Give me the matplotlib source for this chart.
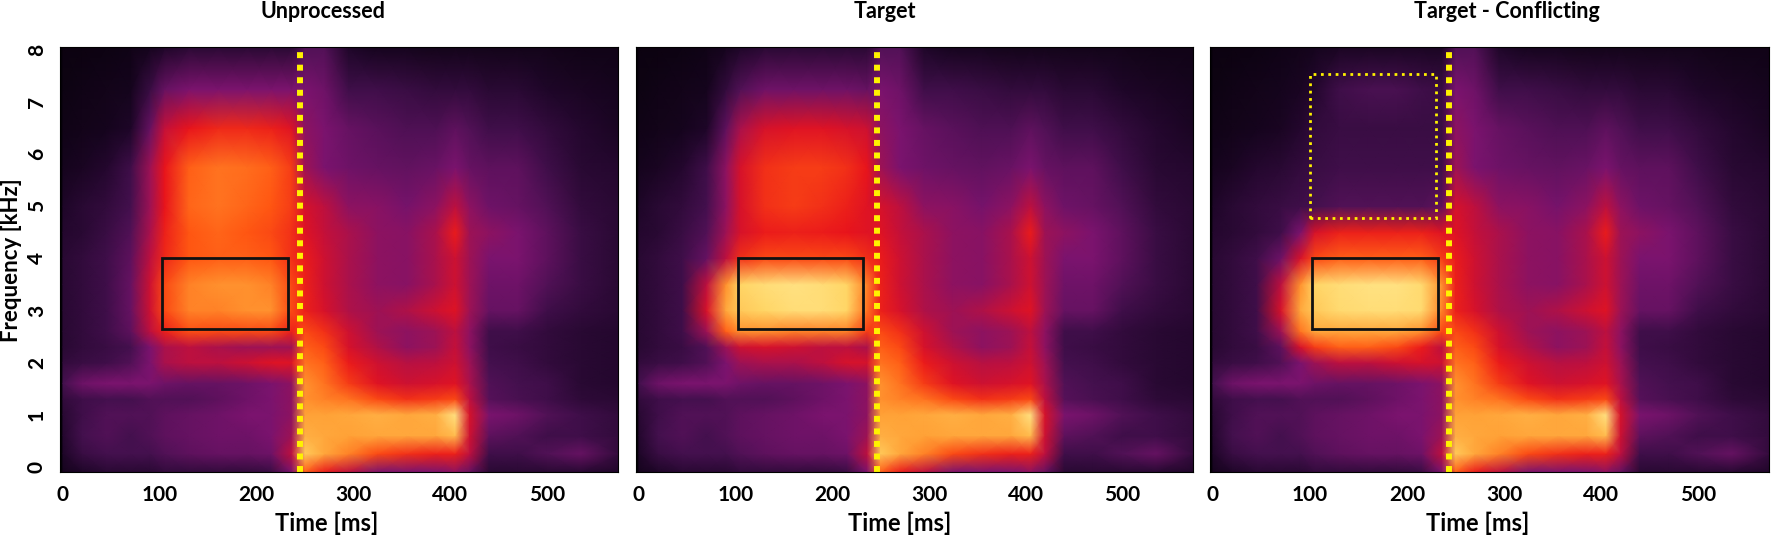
import numpy as np
import matplotlib
matplotlib.use('Agg')
import matplotlib.pyplot as plt
from matplotlib.colors import LinearSegmentedColormap

plt.rcParams['font.family'] = ['Lato', 'DejaVu Sans']
plt.rcParams['font.weight'] = 'bold'

# spectrogram nodes (ms, kHz); rows go from the top bin down to the lowest
time_left = [0, 20, 45, 70, 90, 105, 130, 160, 190, 215, 236]
time_right = [250, 270, 295, 325, 355, 385, 405, 420, 440, 470, 500, 535, 575]
freq_nodes = [8.06, 7.25, 6.5, 5.75, 5.0, 4.5, 4.0, 3.5, 3.0, 2.6, 2.3, 2.0,
              1.6, 1.3, 1.0, 0.6, 0.25, -0.1]

# relative level 0..1 (0 = black, 1 = pale yellow), before the onset line
unproc_left = [
    [0.05, 0.05, 0.06, 0.08, 0.12, 0.18, 0.22, 0.22, 0.22, 0.22, 0.22],
    [0.06, 0.08, 0.10, 0.12, 0.28, 0.40, 0.45, 0.45, 0.45, 0.45, 0.45],
    [0.08, 0.10, 0.12, 0.18, 0.40, 0.56, 0.64, 0.67, 0.67, 0.66, 0.62],
    [0.12, 0.15, 0.20, 0.30, 0.50, 0.64, 0.75, 0.78, 0.77, 0.75, 0.70],
    [0.18, 0.22, 0.25, 0.32, 0.50, 0.64, 0.76, 0.78, 0.76, 0.74, 0.70],
    [0.20, 0.22, 0.28, 0.35, 0.52, 0.66, 0.74, 0.76, 0.74, 0.72, 0.68],
    [0.22, 0.25, 0.30, 0.38, 0.55, 0.67, 0.74, 0.75, 0.75, 0.74, 0.68],
    [0.22, 0.25, 0.30, 0.40, 0.58, 0.72, 0.80, 0.82, 0.82, 0.80, 0.72],
    [0.22, 0.25, 0.30, 0.40, 0.58, 0.72, 0.80, 0.80, 0.82, 0.82, 0.72],
    [0.22, 0.25, 0.30, 0.38, 0.55, 0.66, 0.73, 0.72, 0.72, 0.72, 0.66],
    [0.22, 0.25, 0.28, 0.32, 0.45, 0.52, 0.55, 0.52, 0.50, 0.50, 0.50],
    [0.25, 0.28, 0.30, 0.35, 0.45, 0.52, 0.55, 0.55, 0.58, 0.62, 0.62],
    [0.32, 0.42, 0.45, 0.45, 0.45, 0.42, 0.40, 0.40, 0.42, 0.45, 0.48],
    [0.25, 0.30, 0.32, 0.32, 0.35, 0.35, 0.35, 0.38, 0.42, 0.45, 0.48],
    [0.22, 0.30, 0.35, 0.35, 0.35, 0.38, 0.40, 0.42, 0.45, 0.45, 0.48],
    [0.20, 0.32, 0.35, 0.32, 0.35, 0.38, 0.40, 0.42, 0.42, 0.45, 0.50],
    [0.18, 0.28, 0.32, 0.32, 0.32, 0.35, 0.38, 0.40, 0.40, 0.42, 0.55],
    [0.12, 0.18, 0.22, 0.22, 0.22, 0.25, 0.25, 0.25, 0.25, 0.28, 0.45],
]

# rows 8.0 .. 2.0 kHz; lower rows are as in the unprocessed signal
target_upper = [
    [0.05, 0.05, 0.06, 0.08, 0.12, 0.18, 0.22, 0.22, 0.22, 0.22, 0.22],
    [0.06, 0.08, 0.10, 0.12, 0.25, 0.35, 0.42, 0.42, 0.42, 0.42, 0.40],
    [0.08, 0.10, 0.12, 0.18, 0.38, 0.52, 0.60, 0.62, 0.62, 0.60, 0.58],
    [0.12, 0.15, 0.20, 0.30, 0.48, 0.60, 0.68, 0.70, 0.70, 0.68, 0.64],
    [0.18, 0.22, 0.25, 0.32, 0.48, 0.60, 0.68, 0.70, 0.68, 0.66, 0.62],
    [0.20, 0.22, 0.28, 0.35, 0.50, 0.60, 0.65, 0.66, 0.65, 0.64, 0.62],
    [0.22, 0.25, 0.30, 0.40, 0.55, 0.68, 0.72, 0.72, 0.72, 0.72, 0.68],
    [0.22, 0.25, 0.30, 0.55, 0.82, 0.92, 0.94, 0.95, 0.94, 0.92, 0.80],
    [0.22, 0.25, 0.30, 0.60, 0.85, 0.90, 0.92, 0.94, 0.94, 0.92, 0.78],
    [0.22, 0.25, 0.30, 0.50, 0.75, 0.82, 0.82, 0.80, 0.80, 0.80, 0.70],
    [0.22, 0.25, 0.28, 0.35, 0.50, 0.58, 0.60, 0.58, 0.55, 0.55, 0.52],
    [0.25, 0.28, 0.30, 0.35, 0.45, 0.50, 0.52, 0.52, 0.55, 0.60, 0.60],
]

conflict_upper = [
    [0.05, 0.05, 0.06, 0.08, 0.10, 0.12, 0.15, 0.15, 0.15, 0.15, 0.15],
    [0.06, 0.08, 0.10, 0.12, 0.15, 0.20, 0.30, 0.33, 0.33, 0.30, 0.28],
    [0.08, 0.10, 0.12, 0.15, 0.20, 0.25, 0.28, 0.28, 0.28, 0.28, 0.28],
    [0.12, 0.15, 0.20, 0.22, 0.25, 0.28, 0.30, 0.30, 0.30, 0.30, 0.30],
    [0.18, 0.22, 0.25, 0.28, 0.30, 0.32, 0.35, 0.35, 0.35, 0.35, 0.38],
    [0.20, 0.22, 0.25, 0.30, 0.45, 0.60, 0.66, 0.66, 0.66, 0.66, 0.62],
    [0.22, 0.25, 0.30, 0.42, 0.60, 0.72, 0.75, 0.75, 0.75, 0.75, 0.70],
    [0.22, 0.25, 0.30, 0.55, 0.82, 0.92, 0.94, 0.95, 0.95, 0.93, 0.82],
    [0.22, 0.25, 0.30, 0.60, 0.85, 0.90, 0.93, 0.94, 0.94, 0.93, 0.80],
    [0.22, 0.25, 0.30, 0.50, 0.78, 0.85, 0.85, 0.85, 0.85, 0.82, 0.72],
    [0.22, 0.25, 0.28, 0.38, 0.60, 0.70, 0.75, 0.75, 0.72, 0.65, 0.55],
    [0.25, 0.28, 0.30, 0.35, 0.45, 0.50, 0.55, 0.55, 0.58, 0.60, 0.58],
]

# after the onset line, all three panels look the same
shared_right = [
    [0.35, 0.35, 0.18, 0.12, 0.12, 0.10, 0.10, 0.10, 0.10, 0.10, 0.10, 0.08, 0.08],
    [0.45, 0.42, 0.30, 0.30, 0.28, 0.25, 0.25, 0.25, 0.22, 0.22, 0.18, 0.15, 0.12],
    [0.48, 0.45, 0.40, 0.37, 0.34, 0.34, 0.38, 0.35, 0.30, 0.30, 0.25, 0.20, 0.15],
    [0.50, 0.45, 0.42, 0.40, 0.39, 0.41, 0.45, 0.40, 0.38, 0.38, 0.30, 0.22, 0.20],
    [0.60, 0.55, 0.48, 0.47, 0.44, 0.48, 0.55, 0.48, 0.42, 0.40, 0.35, 0.25, 0.22],
    [0.62, 0.56, 0.52, 0.48, 0.47, 0.52, 0.65, 0.50, 0.48, 0.45, 0.38, 0.28, 0.22],
    [0.65, 0.58, 0.52, 0.48, 0.47, 0.52, 0.58, 0.50, 0.45, 0.45, 0.38, 0.28, 0.22],
    [0.66, 0.58, 0.52, 0.48, 0.47, 0.52, 0.58, 0.50, 0.42, 0.42, 0.35, 0.28, 0.22],
    [0.66, 0.60, 0.53, 0.50, 0.53, 0.58, 0.62, 0.50, 0.40, 0.40, 0.30, 0.25, 0.22],
    [0.72, 0.68, 0.58, 0.50, 0.48, 0.50, 0.55, 0.48, 0.30, 0.30, 0.25, 0.22, 0.20],
    [0.75, 0.72, 0.60, 0.53, 0.48, 0.50, 0.56, 0.48, 0.30, 0.28, 0.25, 0.22, 0.20],
    [0.78, 0.75, 0.65, 0.58, 0.54, 0.55, 0.58, 0.50, 0.32, 0.30, 0.25, 0.22, 0.20],
    [0.82, 0.78, 0.70, 0.62, 0.58, 0.60, 0.62, 0.52, 0.35, 0.32, 0.30, 0.22, 0.20],
    [0.82, 0.80, 0.78, 0.72, 0.68, 0.70, 0.72, 0.55, 0.36, 0.33, 0.30, 0.24, 0.22],
    [0.84, 0.84, 0.85, 0.86, 0.85, 0.86, 0.95, 0.60, 0.45, 0.42, 0.35, 0.30, 0.25],
    [0.86, 0.85, 0.84, 0.85, 0.85, 0.85, 0.88, 0.58, 0.38, 0.35, 0.30, 0.30, 0.25],
    [0.90, 0.85, 0.80, 0.72, 0.68, 0.66, 0.66, 0.55, 0.30, 0.30, 0.35, 0.40, 0.25],
    [0.75, 0.65, 0.55, 0.45, 0.45, 0.45, 0.48, 0.40, 0.22, 0.22, 0.22, 0.22, 0.18],
]

titles = ['Unprocessed', 'Target', 'Target - Conflicting']
lefts = [unproc_left, target_upper + unproc_left[12:], conflict_upper + unproc_left[12:]]
onset_ms = [245, 246, 243]
box_ms = (102, 232)
box_khz = (2.65, 4.0)
masked_ms = (100, 230)
masked_khz = (4.77, 7.55)

cmap = LinearSegmentedColormap.from_list('spec', [
    (0.00, '#050108'), (0.18, '#1e0628'), (0.32, '#45104f'), (0.45, '#7a136e'),
    (0.56, '#c4103a'), (0.64, '#e8141c'), (0.74, '#ff5512'), (0.84, '#ffa035'),
    (0.92, '#ffd565'), (1.00, '#fff3aa')])

fig = plt.figure(figsize=(17.72, 5.39), dpi=100)
ax_lefts = [60, 636, 1210]
ax_widths = [558, 557, 559]
title_x = [0.471, 0.447, 0.531]
xlabel_x = [0.478, 0.474, 0.478]

times = np.array(time_left + time_right)
freqs = np.array(freq_nodes)[::-1]

for i in range(3):
    ax = fig.add_axes([ax_lefts[i] / 1772, 67 / 539, ax_widths[i] / 1772, 425 / 539])
    Z = np.hstack([np.array(lefts[i]), np.array(shared_right)])[::-1]
    T, F = np.meshgrid(times, freqs)
    ax.set_facecolor('#050108')
    ax.pcolormesh(T, F, Z, shading='gouraud', cmap=cmap, vmin=0, vmax=1)

    ax.axvline(onset_ms[i], color='#fff200', lw=4.3, linestyle=(0, (1, 1.1)),
               dash_capstyle='butt')
    ax.add_patch(plt.Rectangle((box_ms[0], box_khz[0]), box_ms[1] - box_ms[0],
                               box_khz[1] - box_khz[0], fill=False,
                               edgecolor='#111111', lw=2.0))
    if i == 2:
        ax.add_patch(plt.Rectangle((masked_ms[0], masked_khz[0]),
                                   masked_ms[1] - masked_ms[0],
                                   masked_khz[1] - masked_khz[0], fill=False,
                                   edgecolor='#fff200', lw=2.0, linestyle=':'))

    ax.set_xlim(-3, 573)
    ax.set_ylim(-0.1, 8.06)
    ax.set_xticks([0, 100, 200, 300, 400, 500])
    ax.set_yticks(range(9))
    ax.tick_params(length=0, labelsize=15, pad=9.5)
    for lab in ax.get_yticklabels():
        lab.set_rotation(90)
        lab.set_va('center')
    if i > 0:
        ax.set_yticklabels([])
    for sp in ax.spines.values():
        sp.set_linewidth(0.8)

    ax.text(title_x[i], 1.068, titles[i], transform=ax.transAxes, ha='center',
            va='baseline', fontsize=15.5, fontweight='bold')
    ax.text(xlabel_x[i], -0.139, 'Time [ms]', transform=ax.transAxes, ha='center',
            va='baseline', fontsize=17, fontweight='bold')

fig.text(12 / 1772, 1 - 260 / 539, 'Frequency [kHz]', rotation=90, ha='center',
         va='center', fontsize=16, fontweight='bold')

fig.savefig('out.png', dpi=100)
